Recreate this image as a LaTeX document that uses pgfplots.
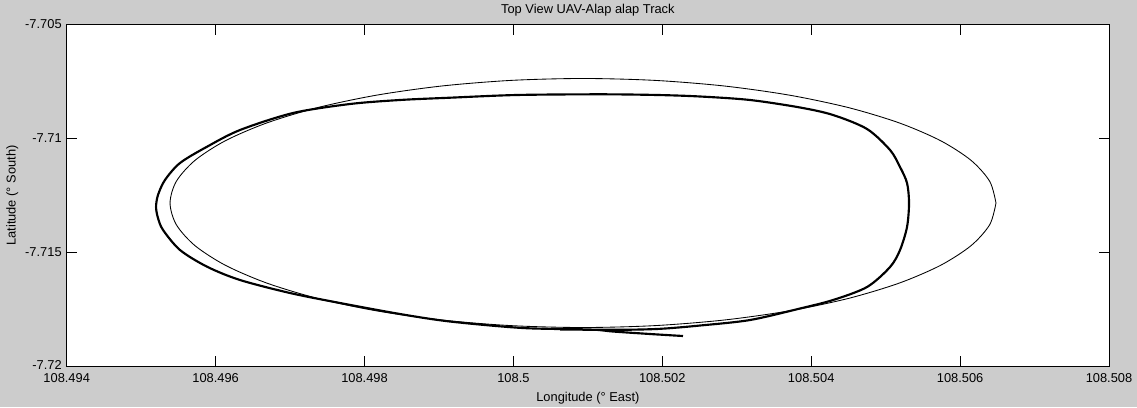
\documentclass[border=0pt]{standalone}
\usepackage{fontspec}
\setmainfont{Liberation Sans}
\usepackage{pgfplots}
\pgfplotsset{compat=1.18}
\definecolor{figbg}{RGB}{204,204,204}

% thin reference ellipse (planned track)
\pgfplotstableread{
lon lat
108.506482 -7.712829
108.506398 -7.711882
108.506148 -7.710963
108.505739 -7.710101
108.505185 -7.709323
108.504501 -7.708650
108.503709 -7.708105
108.502832 -7.707703
108.501898 -7.707457
108.500935 -7.707374
108.499972 -7.707457
108.499038 -7.707703
108.498161 -7.708105
108.497369 -7.708650
108.496686 -7.709323
108.496131 -7.710101
108.495722 -7.710963
108.495472 -7.711882
108.495388 -7.712829
108.495472 -7.713776
108.495722 -7.714694
108.496131 -7.715556
108.496686 -7.716334
108.497369 -7.717007
108.498161 -7.717552
108.499038 -7.717954
108.499972 -7.718200
108.500935 -7.718283
108.501898 -7.718200
108.502832 -7.717954
108.503709 -7.717552
108.504501 -7.717007
108.505185 -7.716334
108.505739 -7.715556
108.506148 -7.714694
108.506398 -7.713776
108.506482 -7.712829
}\plantrack

% flown track (thick)
\pgfplotstableread{
lon lat
108.500626 -7.718370
108.501432 -7.718383
108.501969 -7.718340
108.502507 -7.718195
108.503178 -7.717954
108.503850 -7.717450
108.504293 -7.717078
108.504750 -7.716508
108.505059 -7.715632
108.505193 -7.714888
108.505287 -7.713880
108.505314 -7.712829
108.505287 -7.711952
108.505193 -7.711251
108.505059 -7.710507
108.504750 -7.709587
108.504293 -7.708973
108.503850 -7.708645
108.503178 -7.708316
108.502507 -7.708163
108.501929 -7.708097
108.501163 -7.708067
108.500048 -7.708097
108.499149 -7.708216
108.498477 -7.708316
108.497805 -7.708492
108.497040 -7.708886
108.496328 -7.709631
108.495885 -7.710362
108.495522 -7.711076
108.495320 -7.711821
108.495226 -7.712478
108.495200 -7.713004
108.495226 -7.713486
108.495294 -7.714011
108.495522 -7.714888
108.495885 -7.715619
108.496328 -7.716202
108.496999 -7.716771
108.497671 -7.717209
108.498477 -7.717691
108.499149 -7.718020
108.500129 -7.718305
108.501029 -7.718370
108.501338 -7.718458
108.501835 -7.718567
108.502278 -7.718655
}\flowntrack

\begin{document}
\begin{tikzpicture}
\fill[figbg] (-46.7pt,-28.2pt) rectangle (749.2pt,256.7pt);
\begin{axis}[
  scale only axis,
  width=729.6pt,
  height=239.7pt,
  axis background/.style={fill=white},
  xmin=108.494, xmax=108.508,
  ymin=-7.72, ymax=-7.705,
  xtick={108.494,108.496,108.498,108.5,108.502,108.504,108.506,108.508},
  xticklabels={108.494,108.496,108.498,108.5,108.502,108.504,108.506,108.508},
  ytick={-7.72,-7.715,-7.71,-7.705},
  yticklabels={\raisebox{3pt}{-7.72},-7.715,-7.71,-7.705},
  xticklabel shift=1.4pt,
  ylabel shift=-2pt,
  tick align=inside,
  major tick length=7.3pt,
  tick style={black, line width=0.7pt},
  axis line style={black, line width=0.7pt},
  tick label style={font=\fontsize{9}{11}\selectfont},
  label style={font=\fontsize{9}{11}\selectfont},
  title style={font=\fontsize{9}{11}\selectfont, at={(0.5,1)}, anchor=base, yshift=1.5pt},
  title={Top View UAV-Alap alap Track},
  xlabel={Longitude (° East)},
  ylabel={Latitude (° South)},
]
\addplot[black, line width=0.6pt, smooth] table[x=lon, y=lat] {\plantrack};
\addplot[black, line width=1.5pt, smooth, line join=round] table[x=lon, y=lat] {\flowntrack};
\end{axis}
\pgfresetboundingbox
\path (-46.7pt,-28.2pt) rectangle (749.2pt,256.7pt);
\end{tikzpicture}
\end{document}
